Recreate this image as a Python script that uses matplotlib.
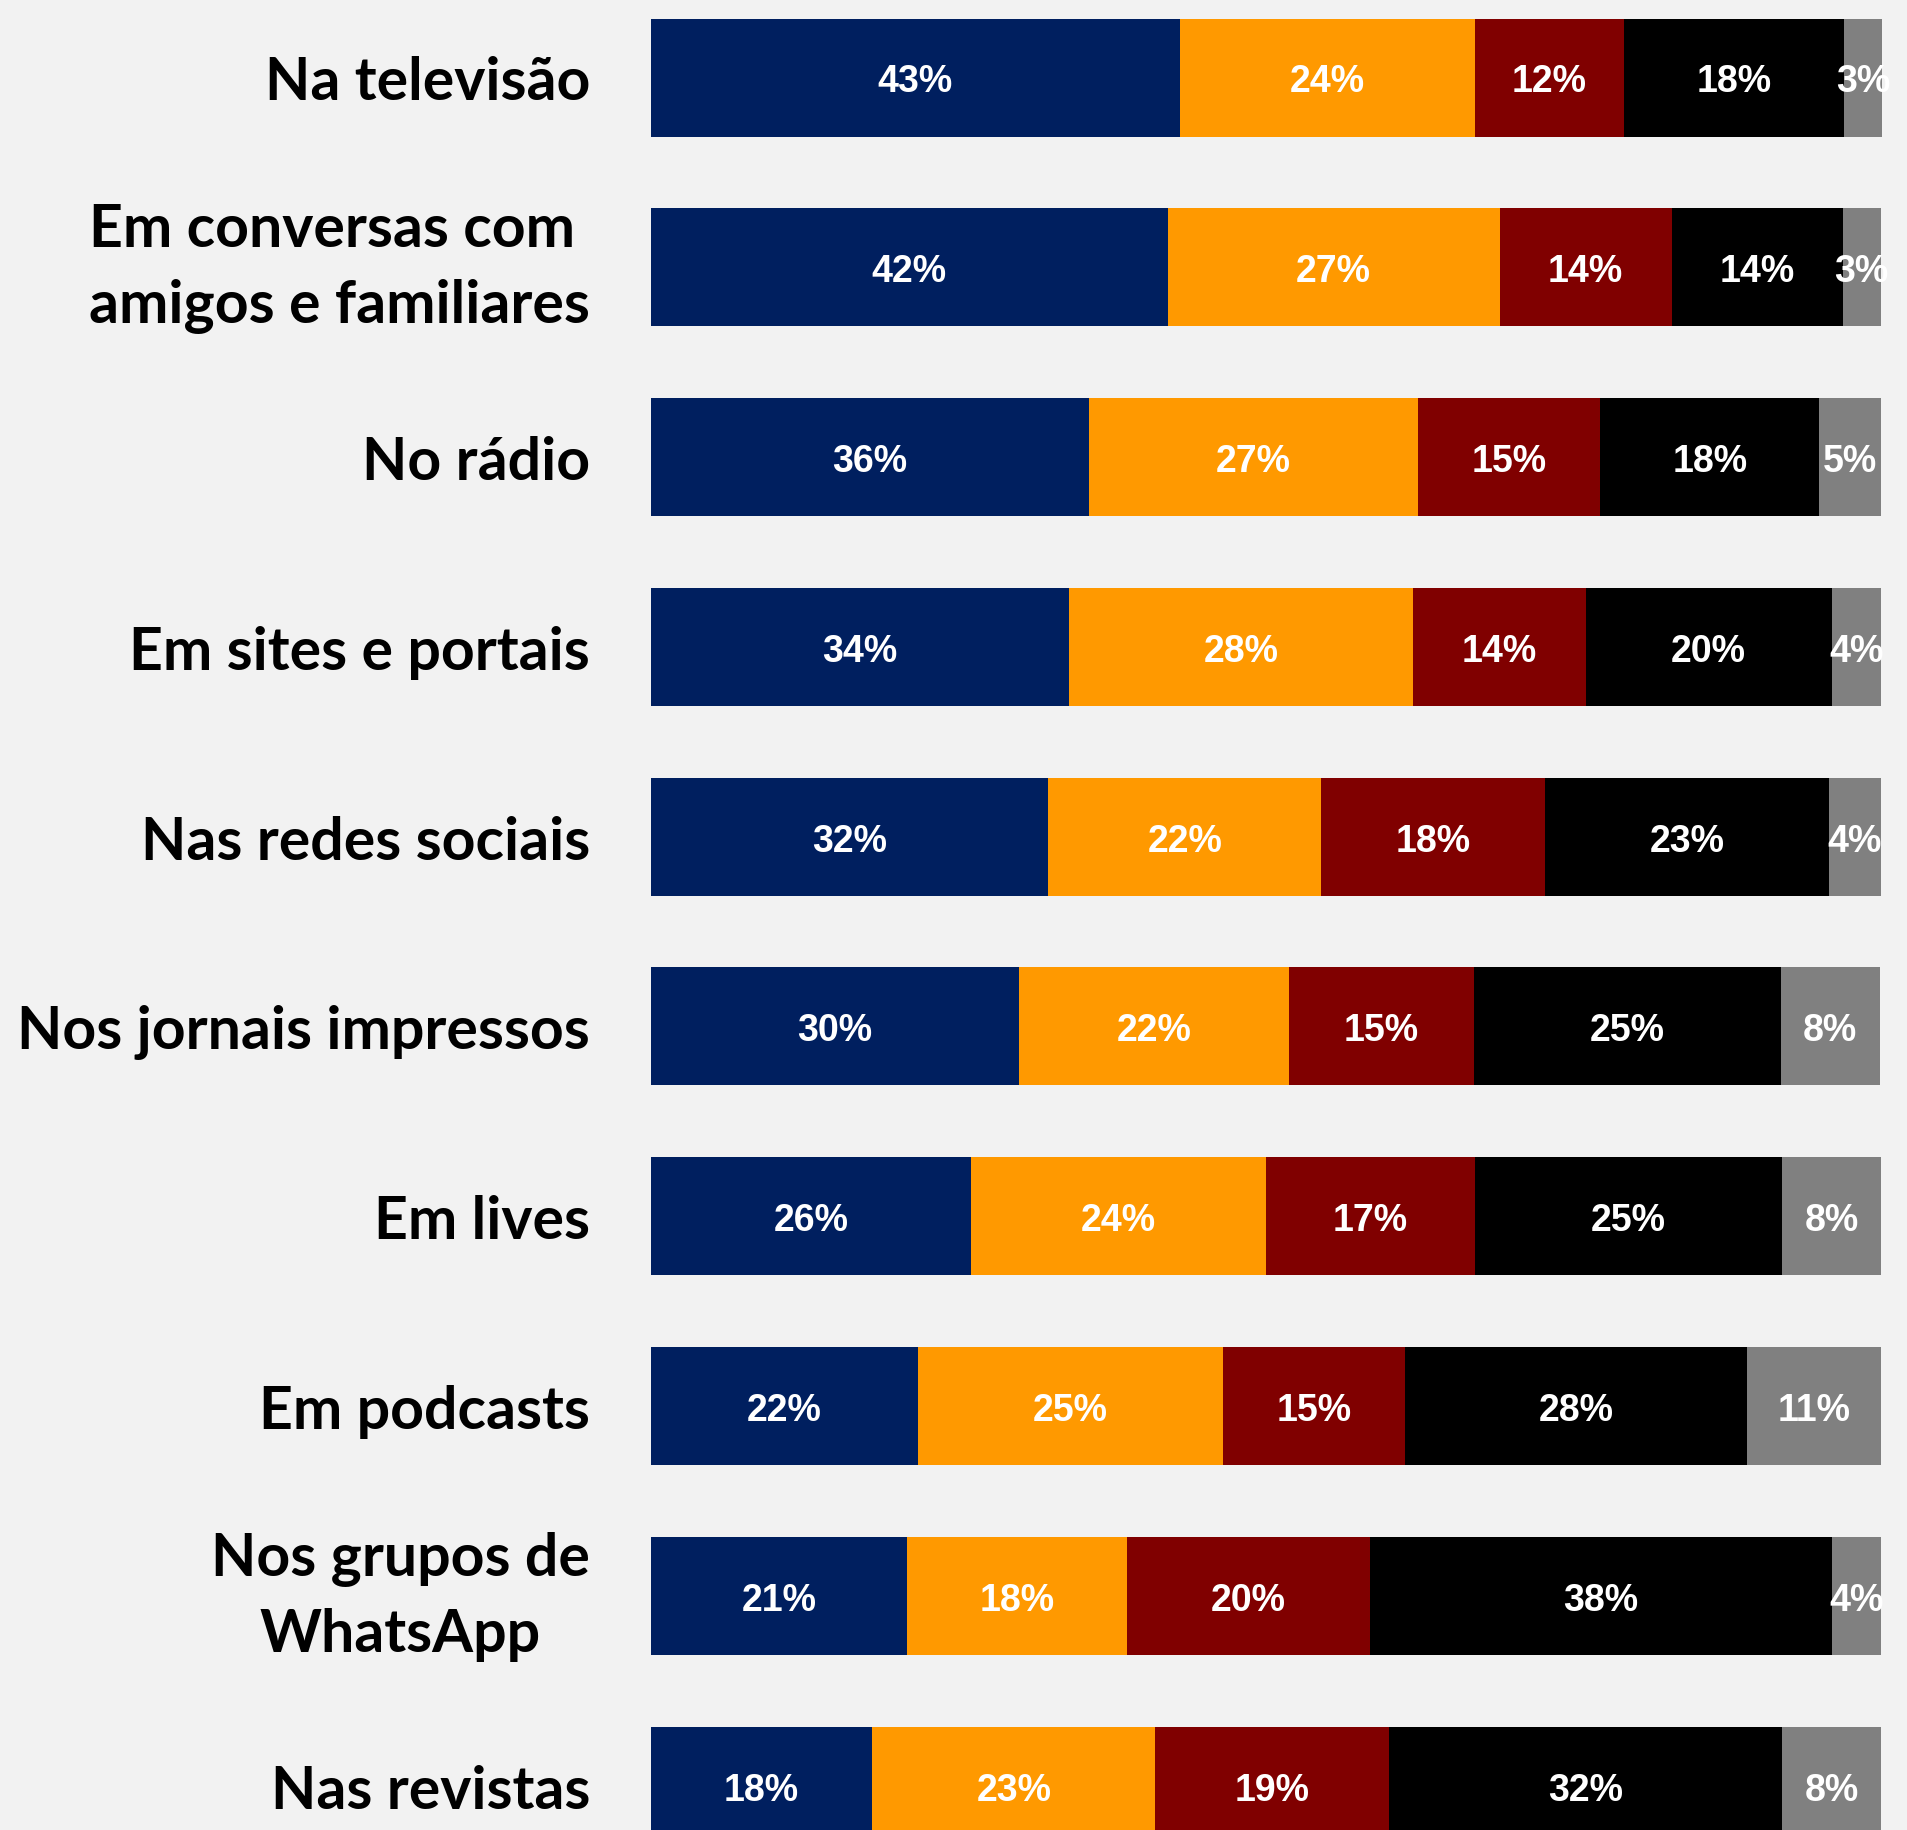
import matplotlib
matplotlib.use("Agg")
import matplotlib.pyplot as plt
import numpy as np

categories = [
    "Na televisão",
    "Em conversas com \namigos e familiares",
    "No rádio",
    "Em sites e portais",
    "Nas redes sociais",
    "Nos jornais impressos",
    "Em lives",
    "Em podcasts",
    "Nos grupos de\nWhatsApp",
    "Nas revistas",
]

seg1 = [43.0, 42.0, 35.6, 34.0, 32.3, 29.9, 26.0, 21.7, 20.8, 18.0]
seg2 = [24.0, 27.0, 26.8, 28.0, 22.2, 22.0, 24.0, 24.8, 17.9, 23.0]
seg3 = [12.1, 14.0, 14.8, 14.0, 18.2, 15.0, 17.0, 14.8, 19.8, 19.0]
seg4 = [17.9, 13.9, 17.8, 20.0, 23.1, 25.0, 25.0, 27.8, 37.5, 32.0]
seg5 = [3.1, 3.1, 5.0, 4.0, 4.2, 8.0, 8.0, 10.9, 4.0, 8.0]

series = [seg1, seg2, seg3, seg4, seg5]
colors = ["#001F5F", "#FF9900", "#800000", "#000000", "#808080"]

W, H = 1908, 1831
fig = plt.figure(figsize=(W / 100, H / 100), dpi=100)
fig.patch.set_facecolor("#F2F2F2")
ax = fig.add_axes([651 / W, 0, (1882 - 651) / W, 1])
ax.set_facecolor("#F2F2F2")

y = np.arange(len(categories))
left = np.zeros(len(categories))
bar_h = 118 / 189.8
for vals, c in zip(series, colors):
    vals = np.array(vals)
    ax.barh(y, vals, left=left, height=bar_h, color=c, edgecolor="none")
    for yi, l, v in zip(y, left, vals):
        ax.text(l + v / 2, yi, f"{round(v):.0f}%", ha="center", va="center_baseline",
                color="white", fontsize=27, fontweight="bold",
                family=["Liberation Sans", "DejaVu Sans"])
    left += vals

total = max(left)
ax.set_xlim(0, total)
ax.set_ylim((H - 78.5) / 189.8, -78.5 / 189.8)
ax.set_yticks(y)
ax.set_yticklabels(categories)
for lab in ax.get_yticklabels():
    lab.set_fontfamily(["Lato", "DejaVu Sans"])
    lab.set_fontweight("bold")
    lab.set_fontsize(42.5)
    lab.set_multialignment("center")
    lab.set_linespacing(1.49)
    if "\n" in lab.get_text():
        lab.set_verticalalignment("center")
ax.tick_params(axis="y", length=0, pad=44)
ax.set_xticks([])
for s in ax.spines.values():
    s.set_visible(False)

fig.savefig("out.png", dpi=100, facecolor=fig.get_facecolor())
